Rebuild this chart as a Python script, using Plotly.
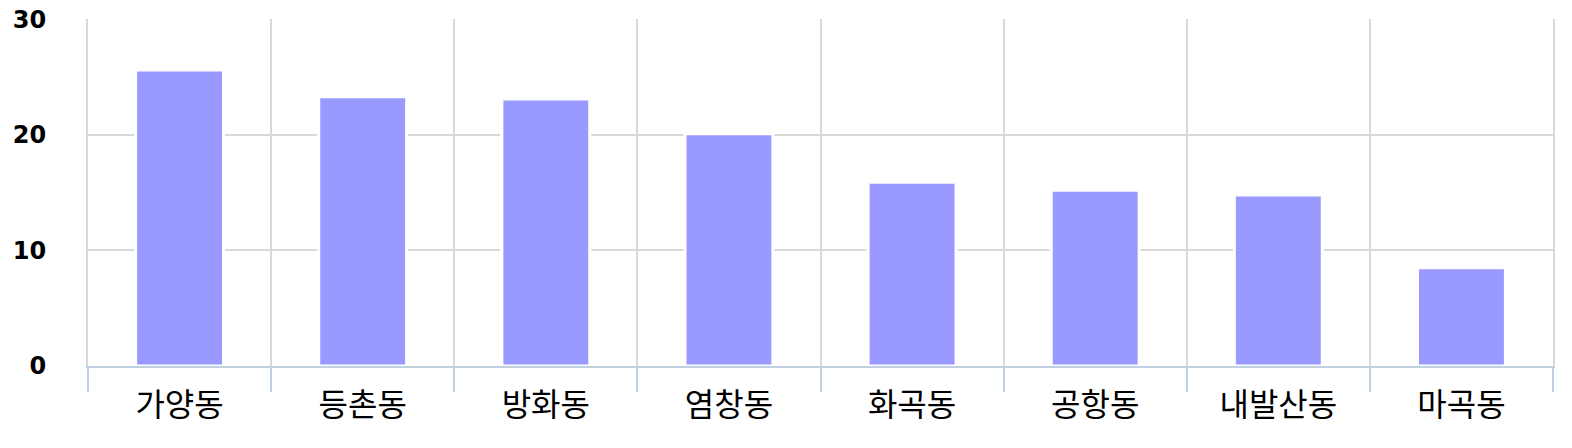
import plotly.graph_objects as go

categories = ["가양동", "등촌동", "방화동", "염창동", "화곡동", "공항동", "내발산동", "마곡동"]
values = [25.6, 23.3, 23.1, 20.1, 15.9, 15.2, 14.8, 8.5]
y_ticks = [0, 10, 20, 30]

fig = go.Figure(
    go.Bar(
        x=categories,
        y=values,
        marker=dict(color="#9999ff", line=dict(color="#ffffff", width=3)),
        hoverinfo="x+y",
    )
)

fig.update_layout(
    width=1572,
    height=448,
    margin=dict(l=88, r=19, t=19, b=82),
    paper_bgcolor="#ffffff",
    plot_bgcolor="#ffffff",
    bargap=0.52,
    showlegend=False,
    font=dict(family="Noto Sans CJK KR, DejaVu Sans, sans-serif", color="#000000"),
)

fig.update_xaxes(
    type="category",
    automargin=False,
    tickson="boundaries",
    showgrid=True,
    gridcolor="#d9d9d9",
    gridwidth=2,
    showline=True,
    linecolor="#c0d0e0",
    linewidth=2,
    ticks="outside",
    ticklen=24,
    tickwidth=2,
    tickcolor="#c0d0e0",
    ticklabelstandoff=10,
    ticklabeloverflow="allow",
    tickfont=dict(family="Noto Sans CJK KR, sans-serif", size=32, color="#000000"),
)

fig.update_yaxes(
    range=[0, 30.02],
    automargin=False,
    tickvals=y_ticks,
    ticktext=["<b>%d</b>" % v for v in y_ticks],
    showgrid=True,
    gridcolor="#d9d9d9",
    gridwidth=2,
    zeroline=False,
    showline=True,
    mirror=True,
    linecolor="#d9d9d9",
    linewidth=2,
    ticks="",
    ticklabelstandoff=35,
    ticklabeloverflow="allow",
    tickfont=dict(family="DejaVu Sans, sans-serif", size=24, color="#000000"),
)

fig.write_html(
    "out.html",
    config={"displayModeBar": False},
    post_script="document.body.style.margin='0';document.body.style.overflow='hidden';",
)
